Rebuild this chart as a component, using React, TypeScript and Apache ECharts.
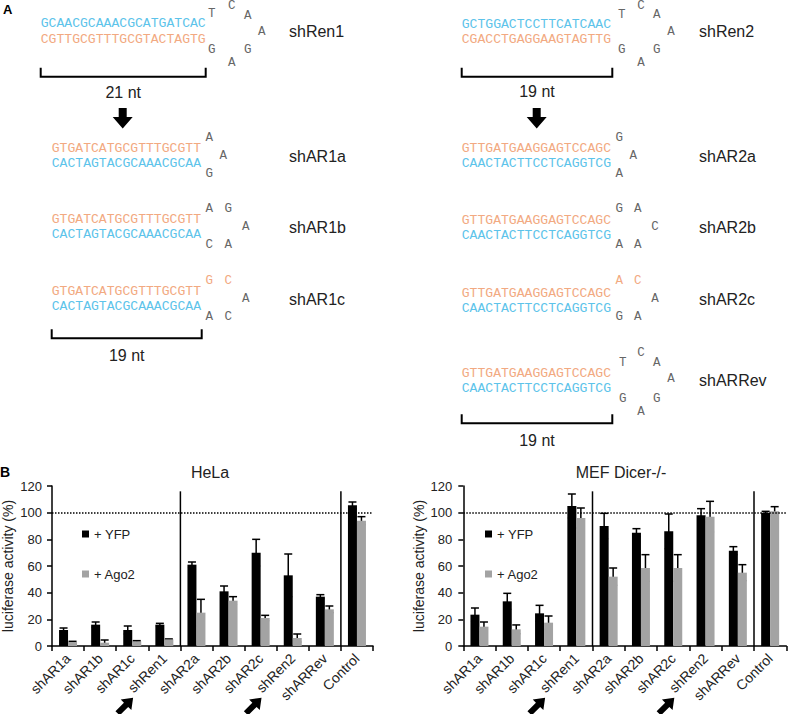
import React, { useEffect, useRef } from 'react';
import * as echarts from 'echarts';

// ---------------- DATA ----------------
const categories = ['shAR1a', 'shAR1b', 'shAR1c', 'shRen1', 'shAR2a', 'shAR2b', 'shAR2c', 'shRen2', 'shARRev', 'Control'];

const helaYFP = [12, 16, 12, 16, 61, 41, 70, 53, 37, 105.5];
const helaYFPErr = [1.5, 2, 3, 1, 2, 4, 10, 16, 1.5, 2.5];
const helaAgo2 = [3, 2.5, 3.5, 5, 25, 34, 21, 6, 27.5, 94];
const helaAgo2Err = [0.5, 2, 0.5, 0.3, 10, 3, 2, 3, 2.5, 3];

const mefYFP = [23.5, 33.5, 24.5, 105, 90, 85, 86, 98, 71.5, 100];
const mefYFPErr = [5, 6, 6, 9, 9.5, 3, 13, 5, 3, 1];
const mefAgo2 = [14.5, 12.5, 17.5, 96, 52, 58.5, 58.5, 97, 55, 101];
const mefAgo2Err = [3.5, 3.3, 5, 7.5, 6.5, 10, 10, 11.5, 6, 3.5];

const seriesNames = ['+ YFP', '+ Ago2'];
const chartTitles = ['HeLa', 'MEF Dicer-/-'];
const yAxisTitle = 'luciferase activity (%)';
const yTicks = { min: 0, max: 120, interval: 20 };
const referenceLevel = 100;
const separatorPairs = [[3, 4], [8, 9]];
const separatorTop = 116;
const arrowTargets = ['shRen1', 'shRen2'];

const hairpinLabels = ['shRen1', 'shAR1a', 'shAR1b', 'shAR1c', 'shRen2', 'shAR2a', 'shAR2b', 'shAR2c', 'shARRev'];
const upperStrands = [
  'GCAACGCAAACGCATGATCAC',
  'GTGATCATGCGTTTGCGTT',
  'GTGATCATGCGTTTGCGTT',
  'GTGATCATGCGTTTGCGTT',
  'GCTGGACTCCTTCATCAAC',
  'GTTGATGAAGGAGTCCAGC',
  'GTTGATGAAGGAGTCCAGC',
  'GTTGATGAAGGAGTCCAGC',
  'GTTGATGAAGGAGTCCAGC',
];
const lowerStrands = [
  'CGTTGCGTTTGCGTACTAGTG',
  'CACTAGTACGCAAACGCAA',
  'CACTAGTACGCAAACGCAA',
  'CACTAGTACGCAAACGCAA',
  'CGACCTGAGGAAGTAGTTG',
  'CAACTACTTCCTCAGGTCG',
  'CAACTACTTCCTCAGGTCG',
  'CAACTACTTCCTCAGGTCG',
  'CAACTACTTCCTCAGGTCG',
];
const loopLetters = ['TCAAGAG', 'AAG', 'AGAAC', 'GCACA', 'TCAAGAG', 'GAA', 'GACAA', 'ACAAG', 'TCAAGAG'];
const bracketLabels = ['21 nt', '19 nt', '19 nt', '19 nt'];

// ---------------- LAYOUT / STYLE ----------------
const SANS = '"Liberation Sans", Arial, Helvetica, sans-serif';
const MONO = '"Liberation Mono", "DejaVu Sans Mono", monospace';
const BLUE = '#5cc3ea';
const ORANGE = '#f2a981';
const LOOP_GRAY = '#666';
const TEXT = '#222';
const BAR_W = 9;
const GRAY_BAR = '#a3a3a3';

const hpLayout = [
  { x: 40.7, yU: 23.3, yL: 39.3, upperBlue: true, lx: 289, ly: 31.7, orange: 0,
    loop: [[211.7, 14], [231.7, 5.5], [247.7, 16], [261.7, 31.7], [247.7, 50], [231.7, 62.7], [211.7, 50]] },
  { x: 51.7, yU: 148.3, yL: 163.3, upperBlue: false, lx: 289, ly: 156, orange: 0,
    loop: [[209.3, 138.3], [223.3, 156], [209.3, 174]] },
  { x: 51.7, yU: 219.3, yL: 234.3, upperBlue: false, lx: 289, ly: 227.3, orange: 0,
    loop: [[209.3, 209.3], [228.3, 209.3], [245.7, 227.3], [228.3, 245], [209.3, 245]] },
  { x: 51.7, yU: 291.7, yL: 306.7, upperBlue: false, lx: 289, ly: 299.3, orange: 2,
    loop: [[209.3, 280.7], [228.3, 280.7], [245.7, 299.3], [228.3, 317.3], [209.3, 317.3]] },
  { x: 461.7, yU: 24, yL: 39.3, upperBlue: true, lx: 699, ly: 31.7, orange: 0,
    loop: [[621.7, 15], [641, 5.5], [656.7, 15], [671, 31.7], [656.7, 50], [641, 62.7], [621.7, 50]] },
  { x: 461.7, yU: 148.3, yL: 163.3, upperBlue: false, lx: 699, ly: 156, orange: 0,
    loop: [[619.3, 138.3], [633.3, 156], [619.3, 174]] },
  { x: 461.7, yU: 220, yL: 235, upperBlue: false, lx: 699, ly: 227.3, orange: 0,
    loop: [[619.3, 209.3], [637.7, 209.3], [655, 227.3], [637.7, 245], [619.3, 245]] },
  { x: 461.7, yU: 293.3, yL: 308.3, upperBlue: false, lx: 699, ly: 299.3, orange: 2,
    loop: [[619.3, 280.7], [637.7, 280.7], [655, 299.3], [637.7, 317.3], [619.3, 317.3]] },
  { x: 461.7, yU: 373.3, yL: 388.3, upperBlue: false, lx: 699, ly: 380.8, orange: 0,
    loop: [[622.7, 363.3], [641, 353.3], [656.7, 363.3], [671, 379], [656.7, 399.3], [641, 411.7], [622.7, 399.3]] },
];

const bracketLayout = [
  { x1: 40.7, x2: 205.7, y: 76.7, ty: 92.7 },
  { x1: 51.7, x2: 201.7, y: 338.3, ty: 355 },
  { x1: 461.7, x2: 612.3, y: 76.7, ty: 91.7 },
  { x1: 461.7, x2: 612.3, y: 423.3, ty: 440 },
];
const downArrowX = [122.7, 536.7];

function buildPanelA(): any[] {
  const els: any[] = [];
  let id = 0;
  const nid = () => 'a' + id++;
  els.push({ id: nid(), type: 'text', x: 3, y: 9, style: { text: 'A', fill: '#000', fontSize: 13, fontWeight: 'bold', fontFamily: SANS, align: 'left', verticalAlign: 'middle' } });
  els.push({ id: nid(), type: 'text', x: 0, y: 471.5, style: { text: 'B', fill: '#000', fontSize: 14, fontWeight: 'bold', fontFamily: SANS, align: 'left', verticalAlign: 'middle' } });
  hairpinLabels.forEach((lab, i) => {
    const L = hpLayout[i];
    els.push({ id: nid(), type: 'text', x: L.x, y: L.yU, style: { text: upperStrands[i], fill: L.upperBlue ? BLUE : ORANGE, fontSize: 13.1, fontFamily: MONO, align: 'left', verticalAlign: 'middle' } });
    els.push({ id: nid(), type: 'text', x: L.x, y: L.yL, style: { text: lowerStrands[i], fill: L.upperBlue ? ORANGE : BLUE, fontSize: 13.1, fontFamily: MONO, align: 'left', verticalAlign: 'middle' } });
    const letters = loopLetters[i].split('');
    letters.forEach((ch, k) => {
      const p = L.loop[k];
      els.push({ id: nid(), type: 'text', x: p[0], y: p[1], style: { text: ch, fill: k < L.orange ? ORANGE : LOOP_GRAY, fontSize: 12.5, fontFamily: MONO, align: 'center', verticalAlign: 'middle' } });
    });
    els.push({ id: nid(), type: 'text', x: L.lx, y: L.ly, style: { text: lab, fill: TEXT, fontSize: 16, fontFamily: SANS, align: 'left', verticalAlign: 'middle' } });
  });
  bracketLabels.forEach((t, i) => {
    const B = bracketLayout[i];
    const st = { stroke: '#000', lineWidth: 2 };
    els.push({ id: nid(), type: 'polyline', shape: { points: [[B.x1, B.y - 9], [B.x1, B.y], [B.x2, B.y], [B.x2, B.y - 9]] }, style: { ...st, fill: 'none' } });
    els.push({ id: nid(), type: 'text', x: (B.x1 + B.x2) / 2, y: B.ty, style: { text: t, fill: TEXT, fontSize: 16, fontFamily: SANS, align: 'center', verticalAlign: 'middle' } });
  });
  downArrowX.forEach((x) => {
    els.push({ id: nid(), type: 'polygon', shape: { points: [[x - 4, 108], [x + 4, 108], [x + 4, 117], [x + 10, 117], [x, 128.5], [x - 10, 117], [x - 4, 117]] }, style: { fill: '#000' } });
  });
  els.push({ id: nid(), type: 'text', x: 210, y: 472, style: { text: chartTitles[0], fill: TEXT, fontSize: 16, fontFamily: SANS, align: 'center', verticalAlign: 'middle' } });
  els.push({ id: nid(), type: 'text', x: 621, y: 472, style: { text: chartTitles[1], fill: TEXT, fontSize: 16, fontFamily: SANS, align: 'center', verticalAlign: 'middle' } });
  return els;
}

function errorRenderer(sign: number) {
  return (params: any, api: any) => {
    const i = api.value(0);
    const v = api.value(1);
    const e = api.value(2);
    const hi = api.coord([i, v + e]);
    const lo = api.coord([i, Math.max(0, v - e)]);
    const x = hi[0] + sign * BAR_W / 2;
    const cap = 4;
    const st = { stroke: '#000', lineWidth: 1.5 };
    return {
      type: 'group',
      children: [
        { type: 'line', shape: { x1: x, y1: hi[1], x2: x, y2: lo[1] }, style: st },
        { type: 'line', shape: { x1: x - cap, y1: hi[1], x2: x + cap, y2: hi[1] }, style: st },
        { type: 'line', shape: { x1: x - cap, y1: lo[1], x2: x + cap, y2: lo[1] }, style: st },
      ],
    };
  };
}

function separatorRenderer(params: any, api: any) {
  const a = api.value(0);
  const b = api.value(1);
  const pa = api.coord([a, 0]);
  const pb = api.coord([b, 0]);
  const top = api.coord([a, separatorTop]);
  const x = (pa[0] + pb[0]) / 2;
  return { type: 'line', shape: { x1: x, y1: top[1], x2: x, y2: pa[1] }, style: { stroke: '#000', lineWidth: 1.5 } };
}

function buildOption() {
  const grids = [
    { left: 52, top: 486, width: 321, height: 160, outerBoundsMode: 'none', containLabel: false },
    { left: 463.3, top: 486, width: 323, height: 160, outerBoundsMode: 'none', containLabel: false },
  ];
  const axisLineStyle = { color: '#000', width: 1.5 };
  const xAxes = [0, 1].map((g) => ({
    type: 'category',
    gridIndex: g,
    data: categories,
    boundaryGap: true,
    axisLine: { show: true, lineStyle: axisLineStyle },
    axisTick: { show: true, length: 5, interval: 0, lineStyle: axisLineStyle },
    axisLabel: { interval: 0, rotate: 45, fontSize: 14, color: TEXT, fontFamily: SANS, margin: 10 },
    splitLine: { show: false },
  }));
  const yAxes = [0, 1].map((g) => ({
    type: 'value',
    gridIndex: g,
    min: yTicks.min,
    max: yTicks.max,
    interval: yTicks.interval,
    name: yAxisTitle,
    nameLocation: 'middle',
    nameGap: 37,
    nameTextStyle: { fontSize: 14, lineHeight: 14, color: TEXT, fontFamily: SANS },
    axisLine: { show: true, lineStyle: axisLineStyle },
    axisTick: { show: true, length: 5, lineStyle: axisLineStyle },
    axisLabel: { fontSize: 13, color: TEXT, fontFamily: SANS, margin: g === 0 ? 10 : 11 },
    splitLine: { show: false },
  }));
  const sets = [
    { yfp: helaYFP, yfpErr: helaYFPErr, ago: helaAgo2, agoErr: helaAgo2Err },
    { yfp: mefYFP, yfpErr: mefYFPErr, ago: mefAgo2, agoErr: mefAgo2Err },
  ];
  const series: any[] = [];
  sets.forEach((s, g) => {
    series.push({
      type: 'bar', name: seriesNames[0], xAxisIndex: g, yAxisIndex: g, data: s.yfp,
      barWidth: BAR_W, barGap: '0%', itemStyle: { color: '#000' },
      markLine: {
        silent: true, symbol: ['none', 'none'], label: { show: false },
        lineStyle: { type: [1.5, 1.5], color: '#000', width: 1.5 },
        data: [{ yAxis: referenceLevel }],
      },
    });
    series.push({
      type: 'bar', name: seriesNames[1], xAxisIndex: g, yAxisIndex: g, data: s.ago,
      barWidth: BAR_W, barGap: '0%', itemStyle: { color: GRAY_BAR },
    });
    series.push({
      type: 'custom', xAxisIndex: g, yAxisIndex: g, renderItem: errorRenderer(-1),
      encode: { x: 0, y: 1 }, data: categories.map((c, i) => [i, s.yfp[i], s.yfpErr[i]]), silent: true,
    });
    series.push({
      type: 'custom', xAxisIndex: g, yAxisIndex: g, renderItem: errorRenderer(1),
      encode: { x: 0, y: 1 }, data: categories.map((c, i) => [i, s.ago[i], s.agoErr[i]]), silent: true,
    });
    series.push({
      type: 'custom', xAxisIndex: g, yAxisIndex: g, renderItem: separatorRenderer,
      encode: { x: 0, y: 1 }, data: separatorPairs.map((p) => [p[0], p[1]]), silent: true,
    });
  });
  const legendBase = {
    orient: 'vertical', top: 522, itemWidth: 7, itemHeight: 7, itemGap: 26, icon: 'rect',
    data: seriesNames, selectedMode: false,
    textStyle: { fontSize: 13, color: TEXT, fontFamily: SANS, lineHeight: 14 },
  };
  return {
    animation: false,
    backgroundColor: '#fff',
    grid: grids,
    xAxis: xAxes,
    yAxis: yAxes,
    legend: [{ ...legendBase, left: 77 }, { ...legendBase, left: 480 }],
    series,
    graphic: { elements: buildPanelA() },
  };
}

export default function App() {
  const ref = useRef<HTMLDivElement>(null);
  useEffect(() => {
    document.body.style.margin = '0';
    if (!ref.current) return;
    const chart = echarts.init(ref.current, null, { renderer: 'svg' });
    const option = buildOption();
    chart.setOption(option as any);
    const arrowEls: any[] = [];
    [0, 1].forEach((g) => {
      arrowTargets.forEach((t, k) => {
        const px = chart.convertToPixel({ xAxisIndex: g } as any, t) as any as number;
        arrowEls.push({
          id: 'arrow' + g + '_' + k,
          type: 'polygon',
          x: px - 39,
          y: 705.5,
          rotation: Math.PI / 4,
          shape: { points: [[-11, -3], [1, -3], [1, -7.5], [11, 0], [1, 7.5], [1, 3], [-11, 3]] },
          style: { fill: '#000' },
        });
      });
    });
    chart.setOption({ graphic: { elements: [...(option.graphic.elements as any[]), ...arrowEls] } } as any);
    return () => chart.dispose();
  }, []);
  return <div ref={ref} style={{ width: 788, height: 714 }} />;
}
